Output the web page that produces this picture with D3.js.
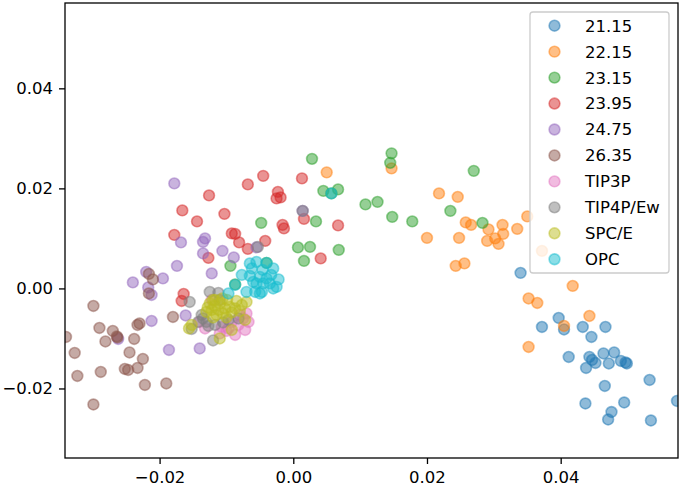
<!DOCTYPE html>
<html><head><meta charset="utf-8">
<script src="https://cdn.jsdelivr.net/npm/d3@7"></script>
<style>
html,body{margin:0;padding:0;background:#fff;}
svg text{font-family:"DejaVu Sans",sans-serif;}
</style></head>
<body><svg id="c" width="685" height="487"></svg>
<script>
const seriesLabels = ["21.15","22.15","23.15","23.95","24.75","26.35","TIP3P","TIP4P/Ew","SPC/E","OPC"];
const seriesColors = ["#1f77b4","#ff7f0e","#2ca02c","#d62728","#9467bd","#8c564b","#e377c2","#7f7f7f","#bcbd22","#17becf"];
const xTicks = [-0.02, 0.00, 0.02, 0.04];
const yTicks = [-0.02, 0.00, 0.02, 0.04];

const s2115 = [[0.0340,0.0031],[0.0372,-0.0077],[0.0397,-0.0059],[0.0405,-0.0082],[0.0433,-0.0077],[0.0467,-0.0077],
 [0.0446,-0.0097],[0.0412,-0.0137],[0.0443,-0.0137],[0.0452,-0.0149],[0.0438,-0.0159],[0.0464,-0.0130],[0.0480,-0.0128],
 [0.0472,-0.0150],[0.0490,-0.0145],[0.0499,-0.0150],[0.0533,-0.0183],[0.0466,-0.0195],[0.0437,-0.0230],[0.0495,-0.0228],
 [0.0476,-0.0247],[0.0471,-0.0262],[0.0535,-0.0264],[0.0574,-0.0225],[0.0447,-0.0143],[0.0497,-0.0148]];
const s2215 = [[0.0147,0.0240],[0.0050,0.0232],[0.0218,0.0190],[0.0246,0.0183],[0.0258,0.0132],[0.0266,0.0127],
 [0.0292,0.0118],[0.0313,0.0127],[0.0314,0.0109],[0.0335,0.0119],[0.0350,0.0144],[0.0200,0.0101],[0.0248,0.0101],
 [0.0290,0.0095],[0.0302,0.0100],[0.0307,0.0089],[0.0243,0.0045],[0.0256,0.0050],[0.0372,0.0075],[0.0418,0.0005],
 [0.0352,-0.0020],[0.0365,-0.0029],[0.0443,-0.0055],[0.0405,-0.0075],[0.0352,-0.0117]];
const s2315 = [[0.0028,0.0259],[0.0045,0.0195],[0.0057,0.0190],[0.0067,0.0198],[0.0034,0.0134],[0.0108,0.0168],
 [0.0126,0.0173],[0.0148,0.0143],[0.0007,0.0082],[0.0025,0.0083],[0.0068,0.0077],[0.0016,0.0055],[0.0147,0.0270],
 [0.0145,0.0251],[0.0270,0.0235],[0.0235,0.0155],[0.0178,0.0134],[0.0283,0.0131],[-0.0048,0.0131],[-0.0094,0.0045],
 [-0.0040,0.0051],[-0.0087,0.0008]];
const s2395 = [[-0.0045,0.0225],[-0.0068,0.0208],[-0.0023,0.0193],[-0.0019,0.0182],[-0.0025,0.0180],[-0.0126,0.0186],
 [-0.0166,0.0156],[-0.0103,0.0149],[-0.0144,0.0134],[-0.0178,0.0107],[-0.0092,0.0110],[-0.0087,0.0109],[-0.0081,0.0092],
 [-0.0068,0.0079],[-0.0042,0.0095],[-0.0016,0.0127],[-0.0014,0.0120],[-0.0127,0.0061],[0.0013,0.0220],[0.0016,0.0139],
 [0.0067,0.0126],[0.0041,0.0060],[-0.0164,-0.0011],[-0.0167,-0.0025]];
const s2475 = [[-0.0178,0.0210],[-0.0168,0.0092],[-0.0132,0.0100],[-0.0135,0.0093],[-0.0135,0.0070],[-0.0106,0.0075],
 [-0.0089,0.0062],[-0.0055,0.0082],[-0.0174,0.0045],[-0.0122,0.0030],[-0.0240,0.0012],[-0.0220,0.0033],[-0.0195,0.0020],
 [-0.0217,0.0002],[-0.0212,-0.0013],[-0.0212,-0.0065],[-0.0161,-0.0054],[-0.0186,-0.0123],[-0.0140,-0.0120],
 [-0.0262,-0.0101],[0.0014,0.0155]];
const s2635 = [[-0.0299,-0.0035],[-0.0290,-0.0079],[-0.0270,-0.0085],[-0.0263,-0.0098],[-0.0281,-0.0106],[-0.0238,-0.0101],
 [-0.0233,-0.0073],[-0.0230,-0.0070],[-0.0180,-0.0057],[-0.0245,-0.0128],[-0.0225,-0.0141],[-0.0252,-0.0161],
 [-0.0247,-0.0163],[-0.0233,-0.0159],[-0.0327,-0.0129],[-0.0323,-0.0175],[-0.0288,-0.0167],[-0.0222,-0.0193],
 [-0.0190,-0.0190],[-0.0299,-0.0232],[-0.0340,-0.0097],[-0.0216,0.0029],[-0.0210,0.0018],[-0.0216,-0.0010],[-0.0264,-0.0096]];
const sTIP3P = [[-0.0080,-0.0053],[-0.0070,-0.0050],[-0.0082,-0.0073],[-0.0072,-0.0083],[-0.0097,-0.0080],[-0.0107,-0.0077],
 [-0.0132,-0.0080],[-0.0140,-0.0067],[-0.0087,-0.0093],[-0.0067,-0.0067],[-0.0092,-0.0067],[-0.0110,-0.0090],[-0.0122,-0.0023],
 [-0.0075,-0.0060],[-0.0100,-0.0085]];
const sTIP4PEw = [[-0.0125,-0.0007],[-0.0112,-0.0009],[-0.0155,-0.0027],[-0.0137,-0.0053],[-0.0142,-0.0067],[-0.0130,-0.0067],
 [-0.0152,-0.0081],[-0.0120,-0.0104],[-0.0117,-0.0073],[-0.0097,-0.0063],[-0.0082,-0.0060],[-0.0110,-0.0023],
 [0.0014,0.0155],[-0.0053,0.0083],[-0.0135,-0.0060],[-0.0105,-0.0068],[-0.0127,-0.0075]];
const sSPCE = [[-0.0125,-0.0030],[-0.0117,-0.0023],[-0.0110,-0.0030],[-0.0122,-0.0043],[-0.0112,-0.0043],[-0.0102,-0.0040],
 [-0.0095,-0.0037],[-0.0087,-0.0040],[-0.0130,-0.0047],[-0.0115,-0.0053],[-0.0105,-0.0050],[-0.0077,-0.0033],
 [-0.0070,-0.0027],[-0.0072,-0.0063],[-0.0152,-0.0073],[-0.0156,-0.0080],[-0.0092,-0.0083],[-0.0110,-0.0100],
 [-0.0120,-0.0023],[-0.0099,-0.0023],[-0.0118,-0.0035],[-0.0106,-0.0020],[-0.0128,-0.0038],[-0.0092,-0.0048],
 [-0.0080,-0.0045],[-0.0100,-0.0058],[-0.0120,-0.0058],[-0.0085,-0.0025]];
const sOPC = [[-0.0065,0.0050],[-0.0055,0.0053],[-0.0046,0.0037],[-0.0033,0.0027],[-0.0022,0.0018],[-0.0077,0.0027],
 [-0.0060,0.0013],[-0.0055,0.0010],[-0.0045,0.0010],[-0.0035,0.0010],[-0.0025,0.0003],[-0.0047,-0.0007],[-0.0057,-0.0007],
 [-0.0070,-0.0007],[-0.0087,0.0007],[-0.0097,-0.0010],[-0.0050,0.0023],[-0.0040,0.0051],[0.0057,0.0190],
 [-0.0062,0.0040],[-0.0030,0.0040],[-0.0040,0.0020],[-0.0065,0.0025],[-0.0050,-0.0010],[-0.0030,0.0000]];

const allSeries = [s2115,s2215,s2315,s2395,s2475,s2635,sTIP3P,sTIP4PEw,sSPCE,sOPC];

const svg = d3.select("#c");
const L = 65, R = 678, T = 3, B = 458;
const x = d3.scaleLinear().domain([-0.03415, 0.05755]).range([L, R]);
const y = d3.scaleLinear().domain([-0.0339, 0.05706]).range([B, T]);

svg.append("defs").append("clipPath").attr("id","clip")
  .append("rect").attr("x",L).attr("y",T).attr("width",R-L).attr("height",B-T);

const R_M = 5.4;
const plot = svg.append("g").attr("clip-path","url(#clip)");
allSeries.forEach((pts,i)=>{
  plot.append("g").selectAll("circle").data(pts).join("circle")
    .attr("cx",d=>x(d[0])).attr("cy",d=>y(d[1])).attr("r",R_M)
    .attr("fill",seriesColors[i]).attr("fill-opacity",0.5)
    .attr("stroke",seriesColors[i]).attr("stroke-opacity",0.5).attr("stroke-width",1.6);
});

const fmt = d3.format(".2f");
const fmtT = v => (v<0? "\u2212"+fmt(-v) : fmt(v));
const xAxis = svg.append("g").attr("transform",`translate(0,${B})`)
  .call(d3.axisBottom(x).tickValues(xTicks).tickFormat(fmtT).tickSize(6).tickPadding(7));
const yAxis = svg.append("g").attr("transform",`translate(${L},0)`)
  .call(d3.axisLeft(y).tickValues(yTicks).tickFormat(fmtT).tickSize(6).tickPadding(6));
[xAxis,yAxis].forEach(a=>{
  a.select(".domain").remove();
  a.selectAll(".tick line").attr("stroke","#000").attr("stroke-width",1.3);
  a.selectAll(".tick text").attr("fill","#000").style("font-size","16.5px").style("font-family","DejaVu Sans");
});

svg.append("rect").attr("x",L).attr("y",T).attr("width",R-L).attr("height",B-T)
  .attr("fill","none").attr("stroke","#000").attr("stroke-width",1.3);

// legend
const lg = svg.append("g");
lg.append("rect").attr("x",530).attr("y",12).attr("width",139).attr("height",261).attr("rx",3)
  .attr("fill","#fff").attr("fill-opacity",0.8).attr("stroke","#cccccc").attr("stroke-width",1.3);
seriesLabels.forEach((lab,i)=>{
  const cy = 25.7 + i*25.95;
  lg.append("circle").attr("cx",554.5).attr("cy",cy).attr("r",R_M)
    .attr("fill",seriesColors[i]).attr("fill-opacity",0.5)
    .attr("stroke",seriesColors[i]).attr("stroke-opacity",0.5).attr("stroke-width",1.6);
  lg.append("text").attr("x",585).attr("y",cy).attr("dy","0.36em")
    .style("font-size","16.5px").attr("fill","#000").text(lab);
});
</script></body></html>
